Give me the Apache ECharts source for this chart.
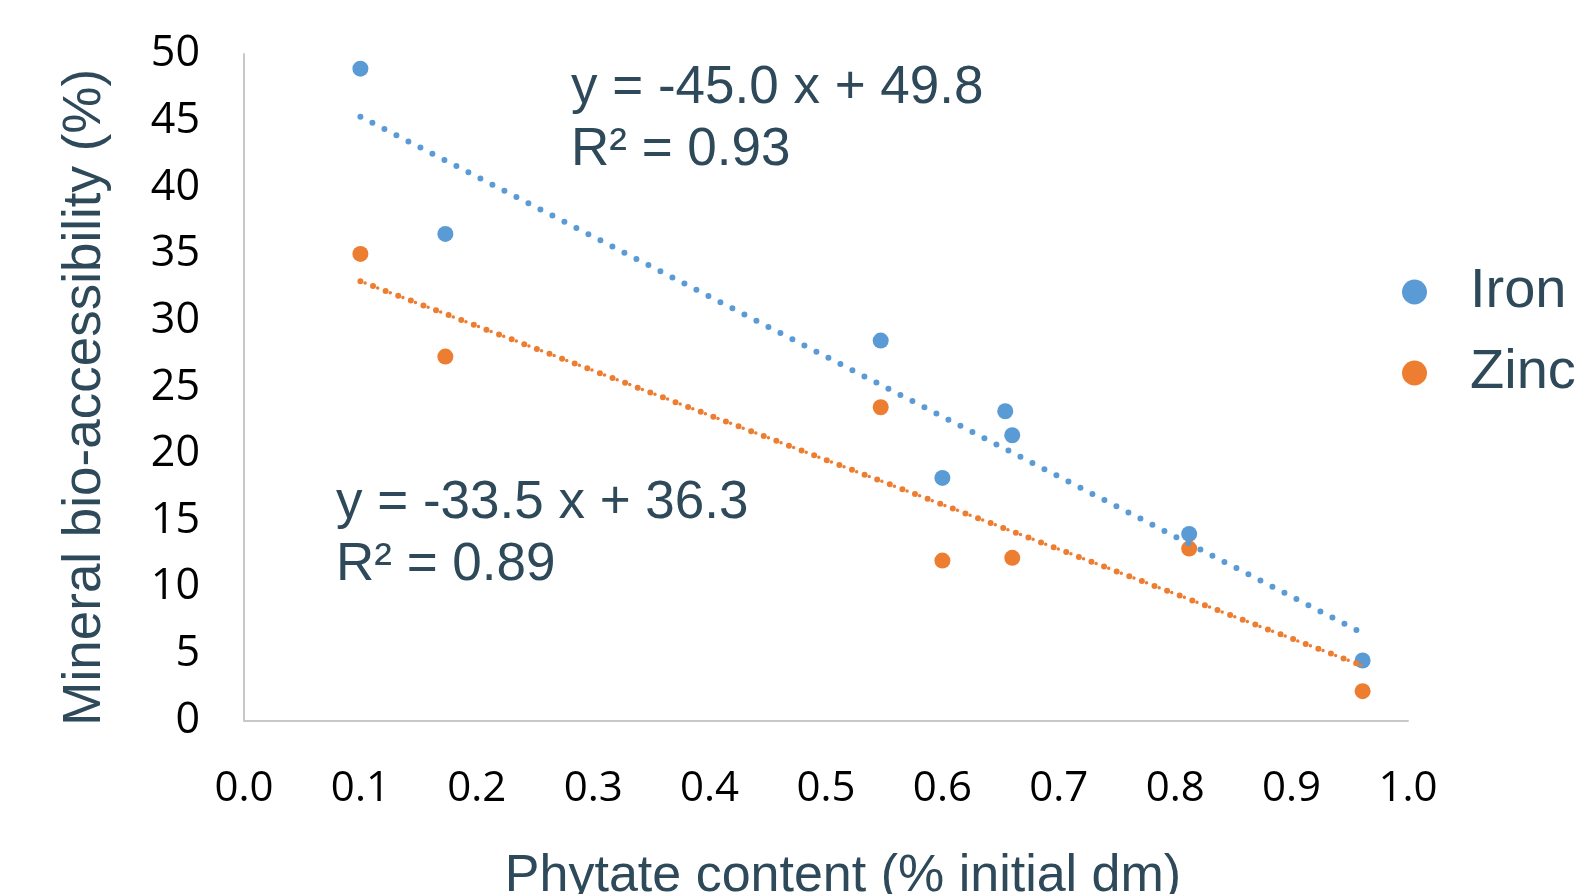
<!DOCTYPE html>
<html><head><meta charset="utf-8">
<script src="https://cdn.jsdelivr.net/npm/echarts@6/dist/echarts.min.js"></script>
<style>html,body{margin:0;padding:0;background:#fff;overflow:hidden}#c{width:1582px;height:894px}</style>
</head><body><div id="c"></div>
<script>
const ironX = [0.100, 0.173, 0.547, 0.654, 0.660, 0.600, 0.812, 0.961];
const ironY = [48.9, 36.5, 28.5, 23.2, 21.4, 18.2, 14.0, 4.5];
const zincX = [0.100, 0.173, 0.547, 0.600, 0.660, 0.812, 0.961];
const zincY = [35.0, 27.3, 23.5, 12.0, 12.2, 12.9, 2.2];
const ironFit = {slope: -45.0, intercept: 49.8, r2: 0.93};
const zincFit = {slope: -33.5, intercept: 36.3, r2: 0.89};
const fitRange = [0.100, 0.961];
const xTicks = [0.0,0.1,0.2,0.3,0.4,0.5,0.6,0.7,0.8,0.9,1.0];

const BLUE = '#5B9BD5', ORANGE = '#ED7D31', TXT = '#2E4A5A';
const pts = (xs, ys) => xs.map((x,i)=>[x, ys[i]]);
const fitLine = f => fitRange.map(x => [x, f.slope*x + f.intercept]);
const eq = f => 'y = ' + f.slope.toFixed(1) + ' x + ' + f.intercept.toFixed(1);

const chart = echarts.init(document.getElementById('c'));
chart.setOption({
  animation: false,
  grid: {left: 244, right: 174, top: 54, bottom: 173.5, outerBoundsMode: 'none', containLabel: false},
  xAxis: {
    type: 'value', min: 0, max: 1, interval: 0.1,
    axisLine: {show: true, lineStyle: {color: '#C8C8C8', width: 2}},
    axisTick: {show: false}, splitLine: {show: false},
    axisLabel: {color: '#000', fontFamily: 'Open Sans', fontSize: 42, margin: 48,
      formatter: v => v.toFixed(1)},
    name: 'Phytate content (% initial dm)', nameLocation: 'middle', nameGap: 130,
    nameTextStyle: {color: TXT, fontFamily: 'Liberation Sans', fontSize: 52, padding: [0,0,0,34]}
  },
  yAxis: {
    type: 'value', min: 0, max: 50, interval: 5,
    axisLine: {show: true, lineStyle: {color: '#C8C8C8', width: 2}},
    axisTick: {show: false}, splitLine: {show: false},
    axisLabel: {color: '#000', fontFamily: 'Open Sans', fontSize: 43, margin: 44},
    name: 'Mineral bio-accessibility (%)', nameLocation: 'middle', nameGap: 132,
    nameTextStyle: {color: TXT, fontFamily: 'Liberation Sans', fontSize: 53, padding: [0,20,0,0]}
  },
  legend: {
    data: ['Iron', 'Zinc'], orient: 'vertical', left: 1397, top: 259,
    icon: 'circle', itemWidth: 25, itemHeight: 25, itemGap: 25,
    textStyle: {color: TXT, fontFamily: 'Liberation Sans', fontSize: 56, lineHeight: 56, padding: [0,0,0,38]}
  },
  graphic: [
    {type: 'text', left: 571, top: 57, style: {text: eq(ironFit) + '\nR² = ' + ironFit.r2.toFixed(2),
      fill: TXT, font: '53px "Liberation Sans"', lineHeight: 62}},
    {type: 'text', left: 336, top: 472, style: {text: eq(zincFit) + '\nR² = ' + zincFit.r2.toFixed(2),
      fill: TXT, font: '53px "Liberation Sans"', lineHeight: 62}}
  ],
  series: [
    {name: 'IronFit', type: 'line', data: fitLine(ironFit), symbol: 'none', silent: true,
      lineStyle: {color: BLUE, width: 6, type: [0, 13.5], cap: 'round'}},
    {name: 'ZincFit', type: 'line', data: fitLine(zincFit), symbol: 'none', silent: true,
      lineStyle: {color: ORANGE, width: 6, type: [0, 13.5], cap: 'round'}},
    {name: 'ZincFit2', type: 'line', data: fitLine(zincFit), symbol: 'none', silent: true,
      lineStyle: {color: ORANGE, width: 3.5, type: [0, 13.5], dashOffset: -5, cap: 'round'}},
    {name: 'Iron', type: 'scatter', data: pts(ironX, ironY), symbolSize: 16, itemStyle: {color: BLUE, opacity: 1}},
    {name: 'Zinc', type: 'scatter', data: pts(zincX, zincY), symbolSize: 16, itemStyle: {color: ORANGE, opacity: 1}}
  ]
});
</script></body></html>
